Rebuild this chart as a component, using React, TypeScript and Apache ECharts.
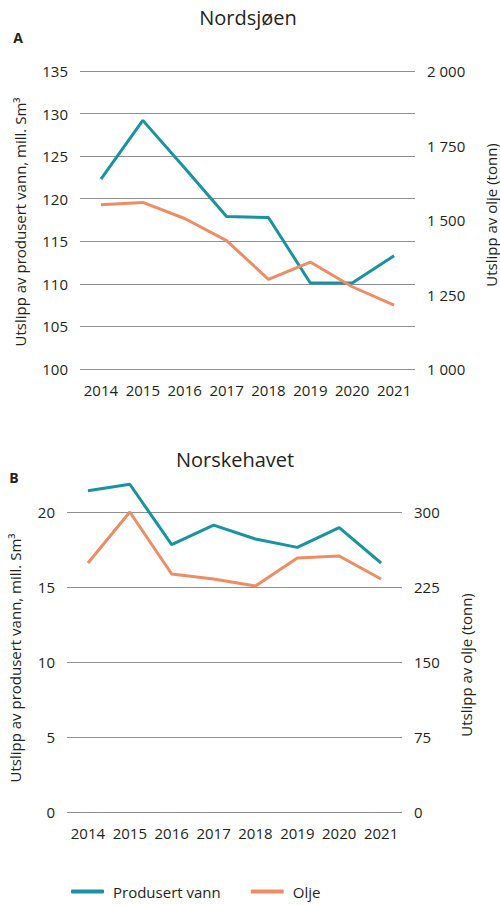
import React, { useEffect, useRef } from "react";
import * as echarts from "echarts";

const years = ["2014", "2015", "2016", "2017", "2018", "2019", "2020", "2021"];
const nordsjoenVann = [122.3, 129.2, 123.6, 117.9, 117.8, 110.1, 110.1, 113.3];
const nordsjoenOlje = [1551, 1559, 1505, 1431, 1301, 1359, 1276, 1214];
const norskehavetVann = [21.42, 21.85, 17.82, 19.13, 18.2, 17.64, 18.96, 16.6];
const norskehavetOlje = [249, 300, 238, 233, 226, 254, 256, 233];

const seriesNames = ["Produsert vann", "Olje"];
const titles = ["Nordsjøen", "Norskehavet"];
const panelLetters = ["A", "B"];
const leftName = "Utslipp av produsert vann, mill. Sm³";
const rightName = "Utslipp av olje (tonn)";

const BLUE = "#18939f";
const ORANGE = "#ee8c64";
const TEXT = "#231f20";
const GRID = "#8f8f8f";
const FONT = "'Open Sans', 'Noto Sans', sans-serif";

const fmtThousands = (v: number) => {
  if (v >= 1000) {
    const t = Math.floor(v / 1000);
    const r = String(Math.round(v % 1000)).padStart(3, "0");
    return `${t} ${r}`;
  }
  return String(v);
};

export default function App() {
  const ref = useRef<HTMLDivElement>(null);
  useEffect(() => {
    if (!ref.current) return;
    const chart = echarts.init(ref.current, undefined, { renderer: "svg" });
    const axisLabel = { color: TEXT, fontSize: 15, fontFamily: FONT, margin: 12 };
    const xAxisBase = {
      type: "category" as const,
      data: years,
      boundaryGap: true,
      axisLine: { show: false },
      axisTick: { show: false },
      axisLabel: { ...axisLabel, margin: 13, interval: 0, hideOverlap: false },
      splitLine: { show: false },
    };
    const rotText = (text: string, x: number, y: number) => ({
      type: "text",
      x,
      y,
      rotation: Math.PI / 2,
      style: {
        text,
        fill: TEXT,
        font: `15px ${FONT}`,
        align: "center",
        verticalAlign: "middle",
      },
    });
    const option: any = {
      animation: false,
      backgroundColor: "#ffffff",
      textStyle: { fontFamily: FONT },
      grid: [
        { left: 80, right: 85, top: 71, height: 298 },
        { left: 67, right: 98, top: 474.5, height: 337.5 },
      ],
      xAxis: [
        { ...xAxisBase, gridIndex: 0 },
        { ...xAxisBase, gridIndex: 1 },
      ],
      yAxis: [
        {
          type: "value",
          gridIndex: 0,
          min: 100,
          max: 135,
          interval: 5,
          axisLine: { show: false },
          axisTick: { show: false },
          axisLabel,
          splitLine: { show: true, lineStyle: { color: GRID, width: 1 } },
        },
        {
          type: "value",
          gridIndex: 0,
          position: "right",
          min: 1000,
          max: 2000,
          interval: 250,
          axisLine: { show: false },
          axisTick: { show: false },
          axisLabel: { ...axisLabel, formatter: (v: number) => fmtThousands(v) },
          splitLine: { show: false },
        },
        {
          type: "value",
          gridIndex: 1,
          min: 0,
          max: 22.5,
          interval: 5,
          axisLine: { show: false },
          axisTick: { show: false },
          axisLabel: { ...axisLabel, showMaxLabel: false },
          splitLine: {
            show: true,
            showMaxLine: false,
            lineStyle: {
              color: [GRID, GRID, GRID, GRID, GRID, "rgba(0,0,0,0)"],
              width: 1,
            },
          },
        },
        {
          type: "value",
          gridIndex: 1,
          position: "right",
          min: 0,
          max: 337.5,
          interval: 75,
          axisLine: { show: false },
          axisTick: { show: false },
          axisLabel: { ...axisLabel, showMaxLabel: false },
          splitLine: { show: false },
        },
      ],
      legend: {
        data: seriesNames,
        left: 66,
        top: 879,
        icon: "roundRect",
        itemWidth: 33,
        itemHeight: 4,
        itemGap: 30,
        textStyle: { color: TEXT, fontSize: 15, fontFamily: FONT, padding: [0, 0, 0, 4] },
      },
      series: [
        {
          name: seriesNames[0],
          type: "line",
          xAxisIndex: 0,
          yAxisIndex: 0,
          data: nordsjoenVann,
          symbol: "none",
          color: BLUE,
          lineStyle: { color: BLUE, width: 3 },
        },
        {
          name: seriesNames[1],
          type: "line",
          xAxisIndex: 0,
          yAxisIndex: 1,
          data: nordsjoenOlje,
          symbol: "none",
          color: ORANGE,
          lineStyle: { color: ORANGE, width: 3 },
        },
        {
          name: seriesNames[0],
          type: "line",
          xAxisIndex: 1,
          yAxisIndex: 2,
          data: norskehavetVann,
          symbol: "none",
          color: BLUE,
          lineStyle: { color: BLUE, width: 3 },
        },
        {
          name: seriesNames[1],
          type: "line",
          xAxisIndex: 1,
          yAxisIndex: 3,
          data: norskehavetOlje,
          symbol: "none",
          color: ORANGE,
          lineStyle: { color: ORANGE, width: 3 },
        },
      ],
      graphic: [
        {
          type: "text",
          x: 248,
          y: 17,
          style: { text: titles[0], fill: TEXT, font: `20px ${FONT}`, align: "center", verticalAlign: "middle" },
        },
        {
          type: "text",
          x: 18,
          y: 37,
          style: { text: panelLetters[0], fill: TEXT, font: `bold 14px ${FONT}`, align: "center", verticalAlign: "middle" },
        },
        {
          type: "text",
          x: 235,
          y: 459,
          style: { text: titles[1], fill: TEXT, font: `20px ${FONT}`, align: "center", verticalAlign: "middle" },
        },
        {
          type: "text",
          x: 14,
          y: 477,
          style: { text: panelLetters[1], fill: TEXT, font: `bold 14px ${FONT}`, align: "center", verticalAlign: "middle" },
        },
        rotText(leftName, 20, 222),
        rotText(rightName, 491, 215),
        rotText(leftName, 15, 658),
        rotText(rightName, 466, 665),
      ],
    };
    chart.setOption(option);
    return () => chart.dispose();
  }, []);
  return (
    <div
      ref={ref}
      style={{ position: "fixed", left: 0, top: 0, width: 500, height: 905 }}
    />
  );
}
